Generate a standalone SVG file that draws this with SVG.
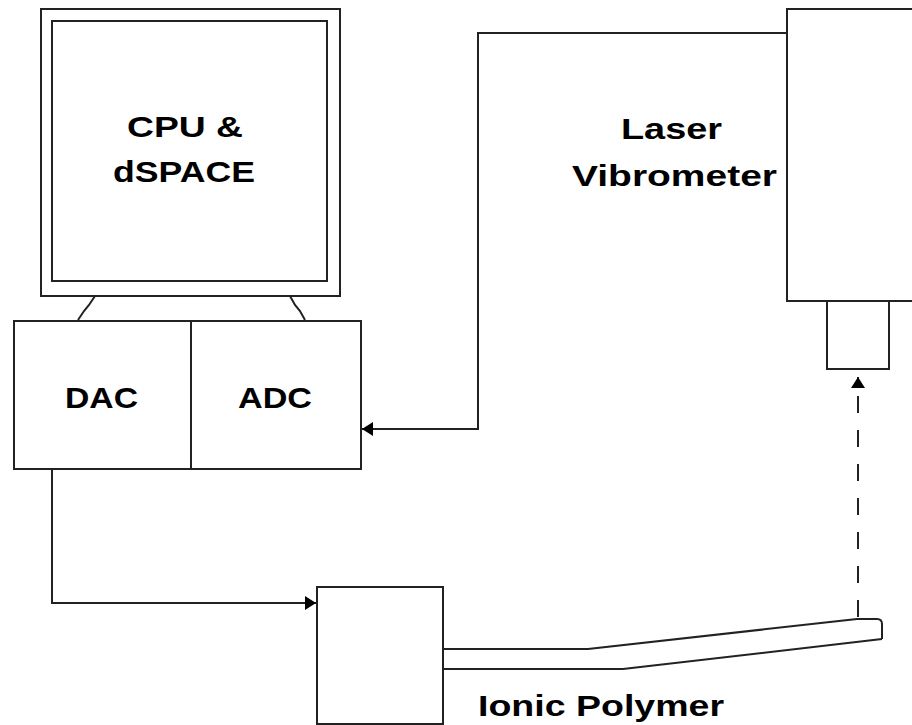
<svg xmlns="http://www.w3.org/2000/svg" width="912" height="725" viewBox="0 0 912 725">
<style>
.box{fill:#fff;stroke:#222;stroke-width:2}
.ln{fill:none;stroke:#222;stroke-width:2}
.lbl{font-family:"Liberation Sans",Arial,sans-serif;font-weight:bold;font-size:30px;fill:#000}
</style>
<defs>
<marker id="ah" markerUnits="userSpaceOnUse" markerWidth="12" markerHeight="14" refX="11" refY="7" orient="auto">
<path d="M0,0 L11,7 L0,14 Z" fill="#000"/>
</marker>
</defs>
<rect width="912" height="725" fill="#fff"/>
<g id="connectors">
<path class="ln" d="M787,33 H478 V429 H362" marker-end="url(#ah)"/>
<path class="ln" d="M52,469 V603 H316" marker-end="url(#ah)"/>
<path class="ln" d="M858,617 V377" stroke-dasharray="17,17" marker-end="url(#ah)"/>
</g>
<g id="cpu">
<rect class="box" x="41" y="9" width="299" height="287"/>
<rect class="box" x="52" y="21" width="275" height="260"/>
<path class="ln" d="M95,296 L89,305 L84,311 L78,320"/>
<path class="ln" d="M290,296 L295,305 L300,311 L305,320"/>
<text class="lbl" x="127" y="137" textLength="116" lengthAdjust="spacingAndGlyphs">CPU &amp;</text>
<text class="lbl" x="113" y="182" textLength="142" lengthAdjust="spacingAndGlyphs">dSPACE</text>
</g>
<g id="converters">
<rect class="box" x="14" y="321" width="347" height="148"/>
<line class="ln" x1="191" y1="321" x2="191" y2="469"/>
<text class="lbl" x="65" y="408" textLength="73" lengthAdjust="spacingAndGlyphs">DAC</text>
<text class="lbl" x="238" y="408" textLength="74" lengthAdjust="spacingAndGlyphs">ADC</text>
</g>
<g id="laser">
<rect class="box" x="787" y="9" width="140" height="292"/>
<rect class="box" x="827" y="301" width="62" height="68"/>
<text class="lbl" x="621" y="139" textLength="101" lengthAdjust="spacingAndGlyphs">Laser</text>
<text class="lbl" x="572" y="186" textLength="205" lengthAdjust="spacingAndGlyphs">Vibrometer</text>
</g>
<g id="polymer">
<rect class="box" x="317" y="587" width="126" height="137"/>
<path class="ln" d="M443,649 H588 L857,619 H877 Q882,619 882,624 V639"/>
<path class="ln" d="M443,669 H623 L882,639"/>
<text class="lbl" x="478" y="716" textLength="246" lengthAdjust="spacingAndGlyphs">Ionic Polymer</text>
</g>
</svg>
